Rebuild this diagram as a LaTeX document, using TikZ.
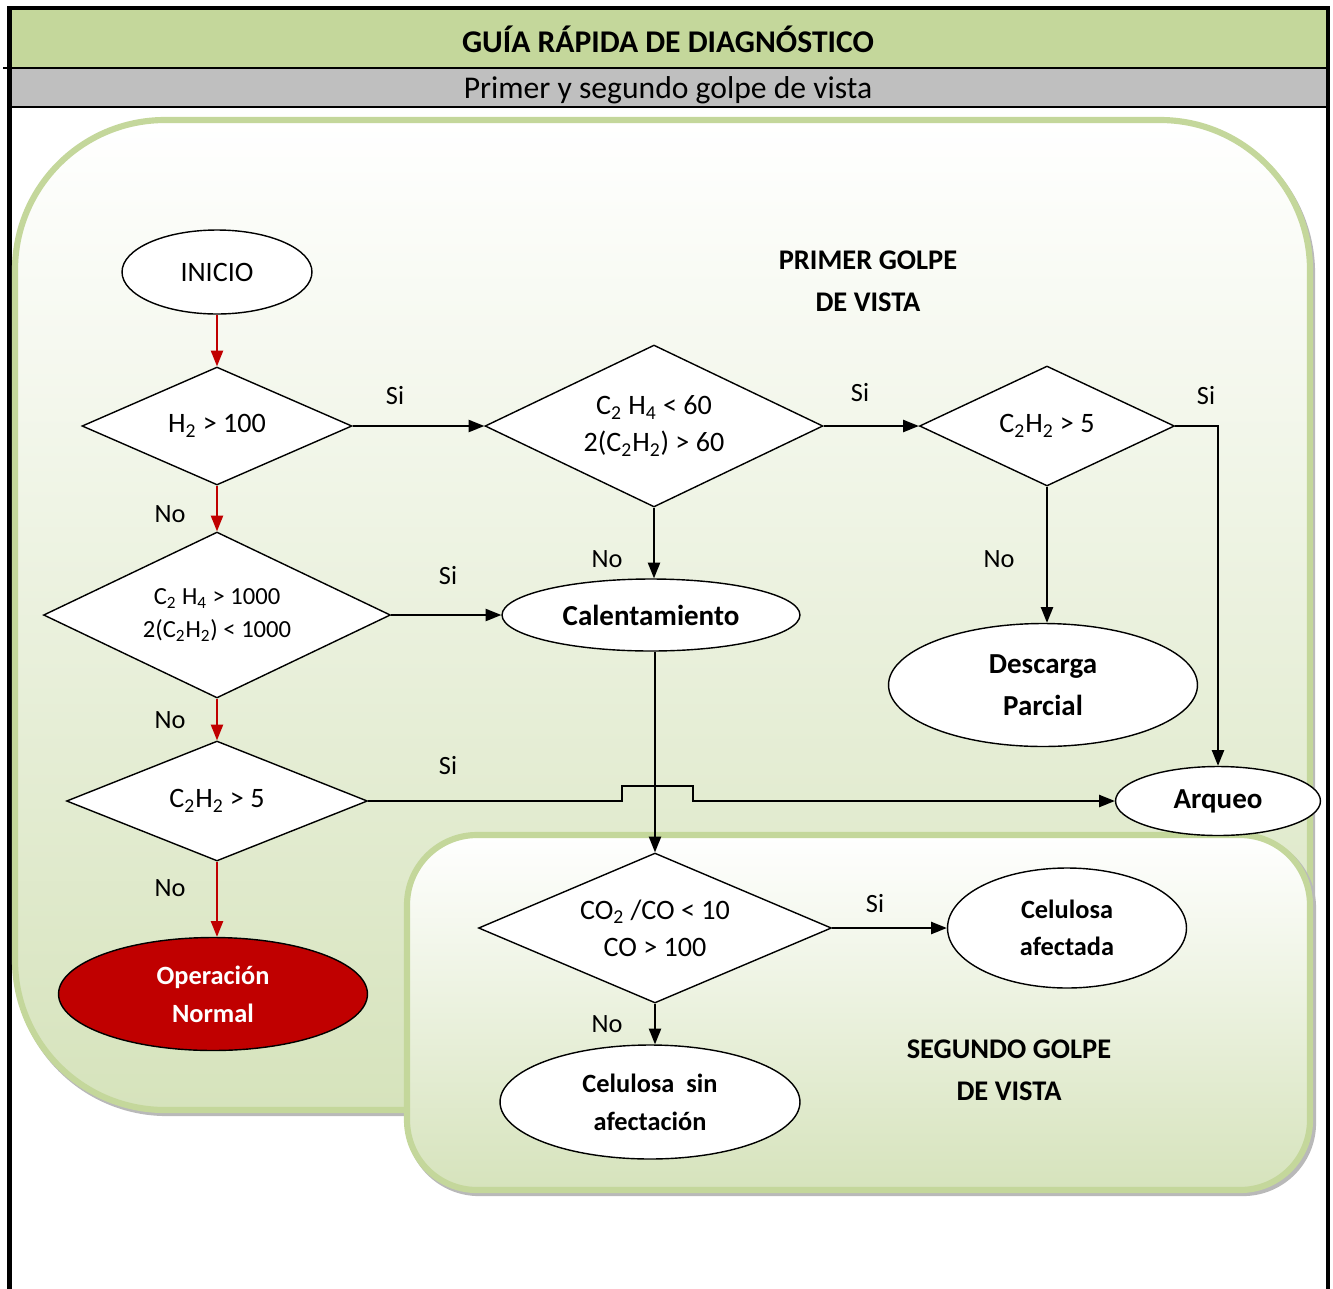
\documentclass[tikz,border=0pt]{standalone}
\usepackage{fontspec}
\setmainfont{Carlito}
\usetikzlibrary{shapes,arrows.meta,positioning,calc}
\definecolor{headgreen}{RGB}{196,215,155}
\definecolor{headgray}{RGB}{191,191,191}
\definecolor{panelgreen}{RGB}{214,227,188}
\definecolor{darkred}{RGB}{192,0,0}

\begin{document}
\begin{tikzpicture}[x=0.02cm, y=-0.02cm,
    decision/.style={draw, diamond, fill=white, inner sep=0pt, aspect=2, align=center, line width=0.8pt, font=\fontsize{16}{21}\selectfont},
    terminal/.style={draw, ellipse, fill=white, inner sep=0pt, align=center, line width=0.8pt, font=\bfseries\fontsize{16.5}{24}\selectfont},
    lbl/.style={font=\fontsize{15}{18}\selectfont},
    flow/.style={-{Triangle[length=9pt,width=7pt]}, line width=0.9pt},
    redflow/.style={flow, draw=darkred, color=darkred},
    panel/.style={draw=headgreen, line width=3.5pt, top color=white, bottom color=panelgreen},
    shadowline/.style={draw=gray!55, line width=3.5pt}]
    \useasboundingbox (0,0) rectangle (1333,1289);

    % header
    \fill[headgreen] (12,10) rectangle (1326,68);
    \fill[headgray] (12,68) rectangle (1326,107);
    \draw[line width=1.2pt] (3,68) -- (1326,68);
    \draw[line width=1.2pt] (12,107) -- (1326,107);
    \draw[line width=2.8pt] (9.5,1289) -- (9.5,8) -- (1328,8) -- (1328,1289);
    \node[font=\bfseries\fontsize{18}{22}\selectfont] (title) at (668,39) {GUÍA RÁPIDA DE DIAGNÓSTICO};
    \node[font=\fontsize{18}{22}\selectfont] (subtitle) at (668,90) {Primer y segundo golpe de vista};

    % panels
    \draw[shadowline, rounded corners=3cm] (17,123) rectangle (1312,1113);
    \draw[panel, rounded corners=3cm] (15,120) rectangle (1310,1110);
    \draw[shadowline, rounded corners=1.4cm] (409,838) rectangle (1313,1193);
    \draw[panel, rounded corners=1.4cm] (407,835) rectangle (1310,1190);

    \node[font=\bfseries\fontsize{16.2}{24}\selectfont, align=center] (primer) at (868,281) {PRIMER GOLPE\\DE VISTA};
    \node[font=\bfseries\fontsize{16.2}{24}\selectfont, align=center] (segundo) at (1009,1070) {SEGUNDO GOLPE\\DE VISTA};

    % first glance
    \node[terminal, font=\fontsize{16}{20}\selectfont, minimum width=3.8cm, minimum height=1.68cm] (inicio) at (217,272) {INICIO};
    \node[decision, minimum width=5.4cm, minimum height=2.36cm] (hyd) at (217,426) {H\textsubscript{2} > 100};
    \node[decision, font=\fontsize{14}{19}\selectfont, minimum width=6.94cm, minimum height=3.32cm] (eth) at (217,615) {C\textsubscript{2} H\textsubscript{4} > 1000\\2(C\textsubscript{2}H\textsubscript{2}) < 1000};
    \node[decision, minimum width=6.02cm, minimum height=2.4cm] (acea) at (217,801) {C\textsubscript{2}H\textsubscript{2} > 5};
    \node[terminal, fill=darkred, text=white, font=\bfseries\fontsize{15}{21.5}\selectfont, minimum width=6.18cm, minimum height=2.26cm] (normal) at (213,994) {Operación\\Normal};
    \node[decision, minimum width=6.76cm, minimum height=3.24cm] (ethb) at (654,426) {C\textsubscript{2} H\textsubscript{4} < 60\\2(C\textsubscript{2}H\textsubscript{2}) > 60};
    \node[terminal, minimum width=5.96cm, minimum height=1.44cm] (calor) at (651,615) {Calentamiento};
    \node[decision, minimum width=5.1cm, minimum height=2.4cm] (aceb) at (1047,426) {C\textsubscript{2}H\textsubscript{2} > 5};
    \node[terminal, minimum width=6.18cm, minimum height=2.46cm] (descarga) at (1043,685) {Descarga\\Parcial};
    \node[terminal, minimum width=4.1cm, minimum height=1.38cm] (arqueo) at (1218,801) {Arqueo};

    % second glance
    \node[decision, minimum width=7.06cm, minimum height=3cm] (carb) at (655,928) {CO\textsubscript{2} /CO < 10\\CO > 100};
    \node[terminal, font=\bfseries\fontsize{15}{21}\selectfont, minimum width=4.78cm, minimum height=2.4cm] (afect) at (1067,928) {Celulosa\\afectada};
    \node[terminal, font=\bfseries\fontsize{15}{21.5}\selectfont, minimum width=6cm, minimum height=2.28cm] (sinafect) at (650,1102) {Celulosa~ sin\\afectación};

    % connectors
    \draw[redflow] (inicio) -- (hyd);
    \draw[redflow] (hyd) -- (eth);
    \draw[redflow] (eth) -- (acea);
    \draw[redflow] (acea.south) -- (acea.south |- normal.north);
    \draw[flow] (hyd.east) -- (ethb.west);
    \draw[flow] (eth.east) -- (calor.west);
    \draw[flow] (acea.east) -- ++(254,0) -- ++(0,-15) -- ++(71,0) -- ++(0,15) -- (arqueo.west);
    \draw[flow] (ethb.south) -- (ethb.south |- calor.north);
    \draw[flow] (ethb.east) -- (aceb.west);
    \draw[flow] (aceb.east) -| (arqueo.north);
    \draw[flow] (aceb.south) -- (aceb.south |- descarga.north);
    \draw[flow] (carb.north |- calor.south) -- (carb.north);
    \draw[flow] (carb.east) -- (afect.west);
    \draw[flow] (carb.south) -- (carb.south |- sinafect.north);

    % branch labels
    \node[lbl] (si1) at (395,396) {Si};
    \node[lbl] (si2) at (448,576) {Si};
    \node[lbl] (si3) at (448,766) {Si};
    \node[lbl] (si4) at (860,393) {Si};
    \node[lbl] (si5) at (1206,396) {Si};
    \node[lbl] (si6) at (875,904) {Si};
    \node[lbl] (no1) at (170,514) {No};
    \node[lbl] (no2) at (170,720) {No};
    \node[lbl] (no3) at (170,888) {No};
    \node[lbl] (no4) at (607,559) {No};
    \node[lbl] (no5) at (999,559) {No};
    \node[lbl] (no6) at (607,1024) {No};
\end{tikzpicture}
\end{document}
